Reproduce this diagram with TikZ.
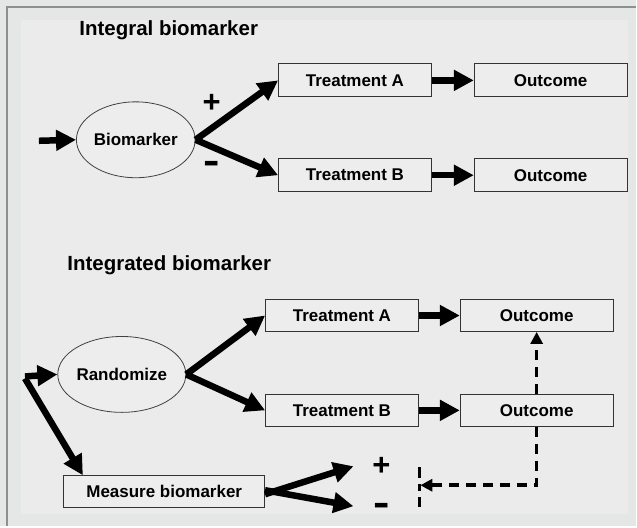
\documentclass[tikz,border=0pt]{standalone}
\usepackage{fontspec}
\setmainfont{Liberation Sans}
\usepackage{xcolor}
\usetikzlibrary{positioning,arrows.meta,shapes.geometric}

\definecolor{outerbg}{HTML}{E5E7E6}
\definecolor{innerbg}{HTML}{EAEBEA}
\definecolor{boxfill}{HTML}{EDEDED}
\definecolor{framegray}{HTML}{8E8F8E}

\begin{document}
\begin{tikzpicture}[x=1pt,y=-1pt,font=\bfseries\fontsize{17}{20}\selectfont]
  \tikzstyle{stagebox}=[rectangle,draw=black!80,line width=0.9pt,fill=boxfill,minimum width=153pt,minimum height=33pt,inner sep=0pt]
  \tikzstyle{decision}=[ellipse,draw=black!75,line width=0.8pt,fill=boxfill,minimum width=114pt,minimum height=76pt,inner sep=0pt]
  \tikzstyle{heading}=[anchor=west,font=\bfseries\fontsize{20.5}{24}\selectfont]
  \tikzstyle{plussign}=[font=\bfseries\fontsize{31}{31}\selectfont,inner sep=0pt]
  \tikzstyle{minussign}=[font=\bfseries\fontsize{38}{38}\selectfont,inner sep=0pt,xscale=1.3]
  \tikzstyle{flow}=[-{Triangle[length=20pt,width=20pt]},line width=6.5pt]
  \tikzstyle{feedback}=[-{Triangle[length=12pt,width=12pt]},line width=3.5pt,dash pattern=on 10pt off 7pt]

  % background
  \fill[outerbg] (0,0) rectangle (637,527);
  \fill[innerbg] (21,20) rectangle (629,515);
  \draw[framegray,line width=2pt] (7,527) -- (7,7) -- (637,7);
  \useasboundingbox (0,0) rectangle (637,527);

  % integral biomarker
  \node[heading] (title1) at (76,30) {Integral biomarker};
  \coordinate (entry) at (39,141);
  \node[decision] (bio) at (136,140) {Biomarker};
  \node[stagebox] (trtA) at (355.5,80.5) {Treatment A};
  \node[stagebox] (outA) at (551.5,80.5) {Outcome};
  \node[stagebox] (trtB) at (355.5,175.5) {Treatment B};
  \node[stagebox] (outB) at (551.5,175.5) {Outcome};
  \node[plussign] (plus1) at (212,104) {+};
  \node[minussign] (minus1) at (212,168) {-};

  \draw[flow] (entry) -- (bio.west);
  \draw[flow] (bio.east) -- (trtA.west);
  \draw[flow] (bio.east) -- (trtB.west);
  \draw[flow] (trtA) -- (outA);
  \draw[flow] (trtB) -- (outB);

  % integrated biomarker
  \node[heading] (title2) at (64,266) {Integrated biomarker};
  \coordinate (split) at (25,377);
  \node[decision] (rand) at (122,375) {Randomize};
  \node[stagebox,minimum height=32pt] (trtA2) at (342.5,316) {Treatment A};
  \node[stagebox,minimum height=32pt] (outA2) at (537.5,316) {Outcome};
  \node[stagebox,minimum height=32pt] (trtB2) at (342.5,411) {Treatment B};
  \node[stagebox,minimum height=32pt] (outB2) at (537.5,411) {Outcome};
  \node[stagebox,minimum width=201pt,minimum height=32pt] (meas) at (164.5,492) {Measure biomarker};
  \node[plussign] (plus2) at (382,467) {+};
  \node[minussign] (minus2) at (382,510) {-};
  \coordinate (measin) at (83,476);
  \coordinate (posend) at (354,467);
  \coordinate (negend) at (354,507);
  \coordinate (corner) at (537.5,486);
  \coordinate (signin) at (421,486);
  \coordinate (ticktop) at (420,468);
  \coordinate (tickbot) at (420,508);

  \draw[flow] (split) -- (rand.west);
  \draw[flow] ([yshift=-2pt]split) -- (measin);
  \draw[flow] (rand.east) -- (trtA2.west);
  \draw[flow] (rand.east) -- (trtB2.west);
  \draw[flow] (trtA2) -- (outA2);
  \draw[flow] (trtB2) -- (outB2);
  \draw[flow] ([yshift=-3pt]meas.east) -- (posend);
  \draw[flow] ([yshift=1pt]meas.east) -- (negend);

  \draw[feedback] (outB2.north) -- (outA2.south);
  \draw[feedback] (outB2.south) -- (corner) -- (signin);
  \draw[line width=3.5pt,dash pattern=on 11pt off 6pt on 7pt off 6pt on 10pt] (ticktop) -- (tickbot);
\end{tikzpicture}
\end{document}
